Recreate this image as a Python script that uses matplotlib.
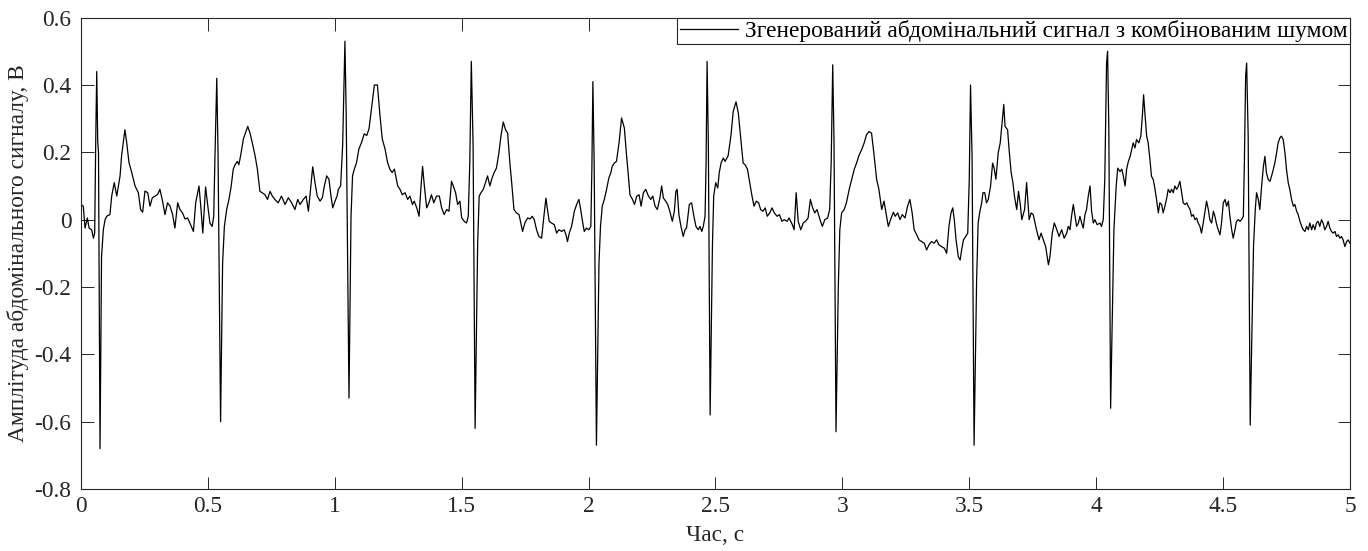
import numpy as np
import matplotlib
matplotlib.use("Agg")
import matplotlib.pyplot as plt

plt.rcParams['font.family'] = ['Liberation Serif', 'DejaVu Serif']

# Abdominal signal samples (time in s, amplitude in V), split by time span
seg_0_12 = [
    (0.000, 0.045), (0.009, 0.040), (0.016, -0.025), (0.025, 0.005), (0.032, -0.025),
    (0.042, -0.030), (0.049, -0.055), (0.054, -0.040), (0.058, 0.230), (0.062, 0.440),
    (0.066, 0.230), (0.069, 0.200), (0.075, -0.680), (0.081, -0.110), (0.088, -0.030),
    (0.095, 0.000), (0.101, 0.010), (0.114, 0.015), (0.121, 0.070), (0.131, 0.110),
    (0.141, 0.070), (0.154, 0.130), (0.160, 0.190), (0.173, 0.267), (0.180, 0.230),
    (0.189, 0.170), (0.200, 0.140), (0.213, 0.100), (0.226, 0.080), (0.235, 0.030),
    (0.243, 0.022), (0.252, 0.085), (0.263, 0.080), (0.272, 0.040), (0.281, 0.065),
    (0.292, 0.070), (0.302, 0.075), (0.311, 0.090), (0.320, 0.060), (0.331, 0.015),
    (0.341, 0.050), (0.351, 0.040), (0.361, 0.015), (0.370, -0.025), (0.381, 0.050),
    (0.390, 0.030), (0.400, 0.020), (0.410, 0.002), (0.420, 0.005), (0.429, -0.010),
    (0.443, -0.035), (0.452, 0.050), (0.465, 0.100), (0.473, 0.030), (0.480, -0.040),
    (0.491, 0.097), (0.499, 0.045), (0.508, -0.010), (0.517, -0.020), (0.523, 0.010),
    (0.528, 0.190), (0.535, 0.420), (0.540, 0.200), (0.550, -0.600), (0.558, -0.130),
    (0.565, -0.020), (0.574, 0.030), (0.583, 0.060), (0.591, 0.095), (0.600, 0.150),
    (0.607, 0.163), (0.616, 0.173), (0.622, 0.163), (0.629, 0.190), (0.640, 0.240),
    (0.657, 0.277), (0.666, 0.257), (0.675, 0.228), (0.686, 0.190), (0.695, 0.150),
    (0.705, 0.084), (0.714, 0.080), (0.725, 0.074), (0.735, 0.060), (0.745, 0.084),
    (0.754, 0.070), (0.764, 0.060), (0.777, 0.050), (0.790, 0.070), (0.804, 0.045),
    (0.817, 0.065), (0.830, 0.050), (0.843, 0.030), (0.854, 0.060), (0.863, 0.045),
    (0.876, 0.060), (0.887, 0.070), (0.896, 0.025), (0.902, 0.070), (0.913, 0.157),
    (0.922, 0.110), (0.931, 0.070), (0.942, 0.055), (0.951, 0.065), (0.959, 0.100),
    (0.968, 0.130), (0.977, 0.120), (0.985, 0.070), (0.992, 0.035), (1.001, 0.055),
    (1.009, 0.070), (1.014, 0.090), (1.023, 0.100), (1.031, 0.220), (1.040, 0.530),
    (1.045, 0.310), (1.056, -0.530), (1.064, 0.010), (1.070, 0.130), (1.077, 0.150),
    (1.086, 0.170), (1.095, 0.210), (1.106, 0.230), (1.116, 0.255), (1.126, 0.250),
    (1.135, 0.270), (1.143, 0.320), (1.156, 0.400), (1.168, 0.400), (1.178, 0.310),
    (1.187, 0.240), (1.198, 0.210), (1.208, 0.170), (1.217, 0.150), (1.226, 0.140),
    (1.235, 0.150),
]

seg_12_25 = [
    (1.248, 0.100), (1.257, 0.090), (1.266, 0.074), (1.277, 0.080), (1.287, 0.060),
    (1.296, 0.070), (1.306, 0.045), (1.313, 0.055), (1.323, 0.035), (1.332, 0.010),
    (1.340, 0.100), (1.346, 0.158), (1.353, 0.100), (1.362, 0.035), (1.371, 0.050),
    (1.381, 0.074), (1.390, 0.050), (1.401, 0.070), (1.412, 0.070), (1.421, 0.035),
    (1.431, 0.015), (1.441, 0.030), (1.450, 0.025), (1.460, 0.114), (1.467, 0.100),
    (1.476, 0.080), (1.484, 0.045), (1.493, 0.055), (1.500, 0.005), (1.510, -0.005),
    (1.519, -0.010), (1.526, 0.010), (1.532, 0.170), (1.538, 0.470), (1.545, 0.220),
    (1.553, -0.620), (1.563, -0.070), (1.569, 0.070), (1.576, 0.080), (1.585, 0.090),
    (1.594, 0.110), (1.602, 0.130), (1.611, 0.100), (1.620, 0.124), (1.628, 0.140),
    (1.637, 0.153), (1.647, 0.200), (1.655, 0.250), (1.664, 0.290), (1.673, 0.267),
    (1.681, 0.257), (1.690, 0.168), (1.697, 0.110), (1.706, 0.030), (1.716, 0.020),
    (1.726, 0.015), (1.733, -0.010), (1.740, -0.035), (1.749, -0.010), (1.760, 0.005),
    (1.769, 0.002), (1.778, 0.010), (1.786, 0.000), (1.795, -0.030), (1.804, -0.050),
    (1.815, -0.055), (1.824, 0.010), (1.832, 0.064), (1.839, 0.025), (1.845, -0.005),
    (1.854, -0.010), (1.865, -0.015), (1.874, -0.040), (1.883, -0.030), (1.894, -0.035),
    (1.904, -0.030), (1.911, -0.045), (1.917, -0.065), (1.924, -0.040), (1.933, -0.020),
    (1.944, 0.025), (1.953, 0.045), (1.962, 0.060), (1.969, 0.030), (1.975, 0.000),
    (1.983, -0.035), (1.992, -0.025), (2.001, -0.030), (2.009, -0.020), (2.013, 0.150),
    (2.017, 0.410), (2.022, 0.170), (2.031, -0.670), (2.041, -0.130), (2.047, -0.020),
    (2.054, 0.040), (2.062, 0.060), (2.071, 0.090), (2.080, 0.124), (2.088, 0.140),
    (2.093, 0.158), (2.101, 0.168), (2.110, 0.173), (2.120, 0.228), (2.130, 0.302),
    (2.141, 0.272), (2.150, 0.188), (2.157, 0.129), (2.163, 0.074), (2.173, 0.060),
    (2.181, 0.045), (2.190, 0.070), (2.199, 0.074), (2.207, 0.040), (2.216, 0.080),
    (2.225, 0.090), (2.236, 0.070), (2.245, 0.060), (2.253, 0.070), (2.262, 0.040),
    (2.271, 0.030), (2.281, 0.064), (2.288, 0.100), (2.295, 0.064), (2.304, 0.055),
    (2.312, 0.045), (2.320, 0.025), (2.330, -0.005), (2.338, 0.025), (2.344, 0.084),
    (2.349, 0.090), (2.356, 0.015), (2.364, -0.020), (2.373, -0.050), (2.380, -0.030),
    (2.386, -0.025), (2.397, 0.045), (2.406, 0.050), (2.415, 0.010), (2.423, -0.020),
    (2.432, -0.030), (2.439, -0.020), (2.446, -0.035), (2.452, -0.020), (2.459, 0.010),
    (2.463, 0.170), (2.467, 0.470), (2.472, 0.220), (2.479, -0.580), (2.488, -0.080),
    (2.493, 0.070), (2.501, 0.110), (2.509, 0.094), (2.515, 0.140), (2.522, 0.168),
    (2.531, 0.183), (2.538, 0.173),
]

seg_25_37 = [
    (2.550, 0.190), (2.561, 0.250), (2.570, 0.322), (2.581, 0.350), (2.590, 0.317),
    (2.600, 0.240), (2.609, 0.168), (2.617, 0.163), (2.626, 0.150), (2.635, 0.110),
    (2.644, 0.070), (2.652, 0.040), (2.661, 0.055), (2.670, 0.050), (2.678, 0.030),
    (2.687, 0.025), (2.696, 0.035), (2.704, 0.010), (2.714, 0.020), (2.723, 0.035),
    (2.732, 0.020), (2.743, 0.010), (2.752, 0.015), (2.762, -0.005), (2.771, 0.000),
    (2.782, -0.005), (2.790, 0.005), (2.803, -0.015), (2.810, -0.030), (2.818, 0.080),
    (2.826, -0.005), (2.836, -0.030), (2.846, -0.010), (2.855, -0.005), (2.865, 0.005),
    (2.874, 0.060), (2.883, 0.035), (2.891, 0.020), (2.900, 0.030), (2.912, 0.000),
    (2.921, -0.020), (2.931, 0.000), (2.942, 0.005), (2.950, 0.030), (2.956, 0.170),
    (2.962, 0.460), (2.967, 0.238), (2.975, -0.630), (2.984, -0.200), (2.990, -0.030),
    (2.997, 0.020), (3.007, 0.030), (3.016, 0.050), (3.027, 0.090), (3.037, 0.120),
    (3.047, 0.150), (3.056, 0.168), (3.065, 0.190), (3.076, 0.208), (3.086, 0.228),
    (3.095, 0.252), (3.105, 0.262), (3.115, 0.257), (3.124, 0.198), (3.135, 0.120),
    (3.144, 0.090), (3.155, 0.030), (3.164, 0.055), (3.172, 0.020), (3.181, -0.020),
    (3.190, 0.000), (3.201, 0.022), (3.208, 0.010), (3.218, 0.020), (3.227, 0.000),
    (3.236, 0.015), (3.247, 0.005), (3.257, 0.040), (3.266, 0.060), (3.275, 0.020),
    (3.283, -0.030), (3.293, -0.045), (3.302, -0.060), (3.312, -0.065), (3.323, -0.070),
    (3.332, -0.090), (3.341, -0.075), (3.351, -0.065), (3.362, -0.070), (3.371, -0.060),
    (3.381, -0.075), (3.391, -0.080), (3.402, -0.085), (3.411, -0.100), (3.420, -0.020),
    (3.428, 0.020), (3.435, 0.035), (3.441, 0.000), (3.448, -0.060), (3.457, -0.110),
    (3.464, -0.120), (3.470, -0.090), (3.477, -0.060), (3.486, -0.050), (3.494, -0.040),
    (3.500, 0.120), (3.505, 0.400), (3.511, 0.190), (3.519, -0.670), (3.529, -0.180),
    (3.535, -0.010), (3.542, 0.025), (3.549, 0.050), (3.554, 0.080), (3.561, 0.080),
    (3.568, 0.050), (3.575, 0.060), (3.584, 0.100), (3.592, 0.168), (3.598, 0.153),
    (3.605, 0.120), (3.614, 0.198), (3.622, 0.228), (3.632, 0.307), (3.636, 0.342),
    (3.641, 0.277), (3.651, 0.267), (3.657, 0.208), (3.665, 0.140), (3.672, 0.110),
    (3.678, 0.070), (3.687, 0.030), (3.694, 0.084), (3.701, 0.045), (3.707, 0.000),
    (3.718, 0.030), (3.726, 0.110), (3.736, 0.000), (3.744, 0.020), (3.752, 0.015),
]

seg_37_50 = [
    (3.765, -0.030), (3.775, -0.060), (3.783, -0.040), (3.792, -0.060), (3.801, -0.080),
    (3.812, -0.134), (3.818, -0.110), (3.827, -0.040), (3.835, -0.010), (3.845, -0.030),
    (3.854, -0.050), (3.864, -0.030), (3.874, -0.055), (3.884, -0.040), (3.890, -0.020),
    (3.897, -0.030), (3.903, 0.010), (3.910, 0.045), (3.917, 0.010), (3.923, -0.020),
    (3.930, -0.010), (3.936, 0.010), (3.943, -0.010), (3.949, -0.025), (3.956, 0.015),
    (3.962, 0.030), (3.969, 0.070), (3.976, 0.100), (3.982, 0.025), (3.989, -0.010),
    (3.995, 0.000), (4.004, -0.015), (4.015, -0.010), (4.021, -0.020), (4.028, 0.000),
    (4.034, 0.120), (4.041, 0.465), (4.045, 0.500), (4.050, 0.267), (4.057, -0.560),
    (4.070, -0.030), (4.079, 0.100), (4.085, 0.153), (4.094, 0.143), (4.101, 0.150),
    (4.107, 0.130), (4.114, 0.100), (4.120, 0.150), (4.127, 0.173), (4.134, 0.188),
    (4.140, 0.208), (4.146, 0.228), (4.153, 0.213), (4.159, 0.238), (4.168, 0.228),
    (4.176, 0.248), (4.182, 0.307), (4.187, 0.371), (4.192, 0.317), (4.199, 0.248),
    (4.205, 0.228), (4.212, 0.178), (4.218, 0.129), (4.225, 0.119), (4.232, 0.090),
    (4.238, 0.060), (4.245, 0.020), (4.251, 0.050), (4.258, 0.045), (4.264, 0.020),
    (4.271, 0.040), (4.278, 0.064), (4.284, 0.090), (4.291, 0.080), (4.297, 0.090),
    (4.304, 0.080), (4.310, 0.100), (4.317, 0.090), (4.324, 0.100), (4.330, 0.114),
    (4.337, 0.080), (4.343, 0.050), (4.350, 0.045), (4.357, 0.050), (4.363, 0.040),
    (4.370, 0.030), (4.376, 0.010), (4.383, 0.015), (4.389, 0.000), (4.396, 0.005),
    (4.402, -0.010), (4.409, -0.020), (4.415, -0.040), (4.422, -0.010), (4.428, 0.020),
    (4.435, 0.055), (4.442, 0.030), (4.448, 0.000), (4.455, -0.010), (4.462, 0.025),
    (4.468, 0.010), (4.475, -0.015), (4.481, -0.030), (4.488, -0.045), (4.494, -0.010),
    (4.501, 0.050), (4.508, 0.060), (4.514, 0.040), (4.521, 0.055), (4.527, 0.010),
    (4.534, -0.030), (4.540, -0.055), (4.547, -0.030), (4.553, -0.005), (4.560, 0.000),
    (4.567, -0.005), (4.573, 0.000), (4.580, 0.010), (4.584, 0.168), (4.589, 0.426),
    (4.593, 0.465), (4.599, 0.248), (4.607, -0.610), (4.620, -0.080), (4.627, 0.030),
    (4.632, 0.080), (4.639, 0.060), (4.645, 0.030), (4.652, 0.100), (4.659, 0.158),
    (4.665, 0.188), (4.671, 0.139), (4.678, 0.119), (4.685, 0.114), (4.691, 0.129),
    (4.698, 0.149), (4.704, 0.168), (4.711, 0.198), (4.717, 0.228), (4.724, 0.243),
    (4.730, 0.248), (4.737, 0.238), (4.744, 0.198), (4.750, 0.149), (4.757, 0.109),
    (4.763, 0.090), (4.770, 0.060), (4.777, 0.040), (4.783, 0.045), (4.790, 0.025),
    (4.796, 0.015), (4.803, -0.005), (4.810, -0.020), (4.816, -0.030), (4.823, -0.035),
    (4.829, -0.020), (4.836, -0.030), (4.842, -0.010), (4.849, -0.030), (4.855, -0.015),
    (4.862, -0.030), (4.868, -0.010), (4.875, -0.005), (4.881, -0.020), (4.888, 0.000),
    (4.894, -0.010), (4.901, -0.030), (4.908, -0.020), (4.914, -0.005), (4.921, -0.025),
    (4.927, -0.035), (4.934, -0.040), (4.941, -0.035), (4.947, -0.050), (4.954, -0.045),
    (4.960, -0.055), (4.967, -0.050), (4.973, -0.060), (4.980, -0.080), (4.987, -0.065),
    (4.993, -0.060), (5.000, -0.070),
]

x_ticks = [0, 0.5, 1, 1.5, 2, 2.5, 3, 3.5, 4, 4.5, 5]
x_tick_labels = ["0", "0.5", "1", "1.5", "2", "2.5", "3", "3.5", "4", "4.5", "5"]
y_ticks = [-0.8, -0.6, -0.4, -0.2, 0, 0.2, 0.4, 0.6]
y_tick_labels = ["-0.8", "-0.6", "-0.4", "-0.2", "0", "0.2", "0.4", "0.6"]

series_label = "Згенерований абдомінальний сигнал з комбінованим шумом"
x_label = "Час, с"
y_label = "Амплітуда абдомінального сигналу, В"

samples = np.array(seg_0_12 + seg_12_25 + seg_25_37 + seg_37_50)
t, v = samples[:, 0], samples[:, 1]

fs = 16.8
fig = plt.figure(figsize=(13.68, 5.51), dpi=100)
ax = fig.add_axes([0.0592, 0.1125, 0.9276, 0.8555])

ax.plot(t, v, color="black", linewidth=0.9, label=series_label)

ax.set_xlim(0, 5)
ax.set_ylim(-0.8, 0.6)
ax.set_xticks(x_ticks)
ax.set_xticklabels(x_tick_labels)
ax.set_yticks(y_ticks)
ax.set_yticklabels(y_tick_labels)

axis_color = "#262626"
for s in ax.spines.values():
    s.set_color(axis_color)
    s.set_linewidth(0.8)
ax.tick_params(direction="in", top=True, right=True, length=9, width=0.7,
               color=axis_color, labelsize=fs, labelcolor=axis_color)
ax.tick_params(axis="x", pad=5)
ax.tick_params(axis="y", pad=7)

ax.set_xlabel(x_label, fontsize=fs, color=axis_color, labelpad=6)
ax.set_ylabel(y_label, fontsize=fs, color=axis_color, labelpad=4)

leg = ax.legend(loc="upper right", borderaxespad=0, fontsize=fs,
                handlelength=2.5, handletextpad=0.3, borderpad=0.1,
                fancybox=False, framealpha=1)
leg.get_frame().set_edgecolor(axis_color)
leg.get_frame().set_linewidth(0.8)

fig.savefig("out.png", dpi=100)
